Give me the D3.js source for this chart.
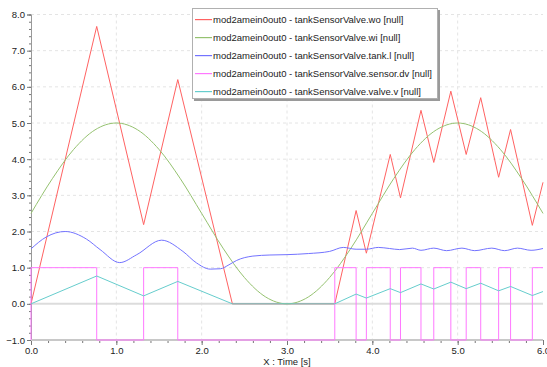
<!DOCTYPE html>
<html lang="en">
  <head>
    <meta charset="UTF-8" />
    <title>tankSensorValve</title>
    <script src="https://cdn.jsdelivr.net/npm/d3@7"></script>
  </head>
  <body>
    <svg></svg>
    <style>
      body { margin: 0; background: #fff; }
      svg { width: 547px; height: 367px; display: block; }
      text { font-family: "Liberation Sans", Arial, sans-serif; font-size: 9.5px; fill: #222; }
    </style>
    <script>
      // series
      const woTime = [0, 0.77, 1.32, 1.72, 2.36, 3.56, 3.81, 3.93, 4.21, 4.33, 4.57, 4.72, 4.92, 5.10, 5.27, 5.48, 5.62, 5.875, 6.0];
      const wo = [0, 7.67, 2.19, 6.2, 0, 0, 2.58, 1.40, 4.13, 2.93, 5.35, 3.91, 5.88, 4.13, 5.70, 3.50, 4.82, 2.17, 3.36];
      const valveV = [0, 0.77, 0.22, 0.62, 0, 0, 0.27, 0.16, 0.42, 0.31, 0.55, 0.41, 0.60, 0.42, 0.57, 0.36, 0.48, 0.23, 0.34];

      const wiTime = [0, 0.25, 0.5, 0.75, 1, 1.25, 1.5, 1.75, 2, 2.25, 2.5, 2.75, 3, 3.25, 3.5, 3.75, 4, 4.25, 4.5, 4.75, 5, 5.25, 5.5, 5.75, 6];
      const wi = [2.5, 3.46, 4.27, 4.81, 5.0, 4.81, 4.27, 3.46, 2.5, 1.54, 0.73, 0.19, 0, 0.19, 0.73, 1.54, 2.5, 3.46, 4.27, 4.81, 5.0, 4.81, 4.27, 3.46, 2.5];

      const levelTime = [0, 0.18, 0.4, 0.65, 0.81, 1.04, 1.24, 1.53, 1.78, 1.94, 2.1, 2.22, 2.32, 2.41, 2.6, 2.8, 3.0, 3.25, 3.5, 3.66, 3.81, 3.93, 4.07, 4.2, 4.32, 4.47, 4.57, 4.72, 4.87, 5.05, 5.2, 5.4, 5.55, 5.7, 5.86, 6.0];
      const level = [1.52, 1.85, 2.0, 1.79, 1.50, 1.14, 1.36, 1.76, 1.45, 1.13, 0.96, 0.97, 1.08, 1.2, 1.32, 1.35, 1.36, 1.39, 1.45, 1.56, 1.51, 1.51, 1.56, 1.53, 1.50, 1.54, 1.48, 1.54, 1.47, 1.54, 1.47, 1.54, 1.47, 1.54, 1.48, 1.53];

      const dvTime = [0, 0, 0.77, 1.32, 1.72, 3.56, 3.81, 3.93, 4.21, 4.33, 4.57, 4.72, 4.92, 5.10, 5.27, 5.48, 5.62, 5.875, 6.0];
      const dv = [-1, 1, -1, 1, -1, 1, -1, 1, -1, 1, -1, 1, -1, 1, -1, 1, -1, 1, 1];

      const xTicks = [0, 1, 2, 3, 4, 5, 6];
      const yTicks = [-1, 0, 1, 2, 3, 4, 5, 6, 7, 8];
      const legendNames = [
        "mod2amein0out0 - tankSensorValve.wo [null]",
        "mod2amein0out0 - tankSensorValve.wi [null]",
        "mod2amein0out0 - tankSensorValve.tank.l [null]",
        "mod2amein0out0 - tankSensorValve.sensor.dv [null]",
        "mod2amein0out0 - tankSensorValve.valve.v [null]"
      ];
      const colors = ["#ff6262", "#95c270", "#7373ff", "#ff78ff", "#66cdcd"];

      const svg = d3.select("svg");
      const x = d3.scaleLinear().domain([0, 6]).range([31, 543]);
      const y = d3.scaleLinear().domain([-1, 8]).range([340, 14.5]);

      // grid
      svg.append("g").selectAll("line").data(xTicks.slice(1, -1)).join("line")
        .attr("x1", d => x(d)).attr("x2", d => x(d))
        .attr("y1", y(8)).attr("y2", y(-1))
        .attr("stroke", "#e4e4e4").attr("stroke-dasharray", "3,3");
      svg.append("g").selectAll("line").data(yTicks.filter(d => d !== 0 && d !== -1)).join("line")
        .attr("x1", x(0)).attr("x2", x(6))
        .attr("y1", d => y(d)).attr("y2", d => y(d))
        .attr("stroke", "#e4e4e4").attr("stroke-dasharray", "3,3");
      svg.append("line")
        .attr("x1", x(0)).attr("x2", x(6)).attr("y1", y(0)).attr("y2", y(0))
        .attr("stroke", "#dcdcdc").attr("stroke-width", 2);

      // axes
      svg.append("g").attr("transform", `translate(${x(0)},0)`)
        .call(d3.axisLeft(y).tickValues(yTicks).tickFormat(d3.format(".1f")).tickSize(4).tickPadding(2));
      svg.append("g").attr("transform", `translate(${x(0)},0)`)
        .call(d3.axisLeft(y).tickValues(d3.range(-1, 8.01, 0.2)).tickFormat("").tickSize(2));
      svg.append("g").attr("transform", `translate(0,${y(-1)})`)
        .call(d3.axisBottom(x).tickValues(xTicks).tickFormat(d3.format(".1f")).tickSize(5).tickPadding(2));
      svg.append("g").attr("transform", `translate(0,${y(-1)})`)
        .call(d3.axisBottom(x).tickValues(d3.range(0, 6.01, 0.2)).tickFormat("").tickSize(3));
      svg.selectAll(".domain").attr("stroke", "#999");
      svg.selectAll(".tick line").attr("stroke", "#777");
      svg.selectAll(".tick text").style("font-size", "9.5px").attr("fill", "#222");
      svg.append("line")
        .attr("x1", x(0)).attr("x2", x(6)).attr("y1", y(-1)).attr("y2", y(-1))
        .attr("stroke", "#c8c8c8").attr("stroke-width", 2);

      svg.append("text").attr("x", 287).attr("y", 365).attr("text-anchor", "middle").text("X : Time [s]");

      // series
      const lin = d3.line().x(d => x(d[0])).y(d => y(d[1]));
      const smooth = d3.line().x(d => x(d[0])).y(d => y(d[1])).curve(d3.curveMonotoneX);
      const step = d3.line().x(d => x(d[0])).y(d => y(d[1])).curve(d3.curveStepAfter);

      const series = [
        { path: lin(d3.zip(woTime, wo)), c: colors[0] },
        { path: smooth(d3.zip(wiTime, wi)), c: colors[1] },
        { path: smooth(d3.zip(levelTime, level)), c: colors[2] },
        { path: step(d3.zip(dvTime, dv)), c: colors[3] },
        { path: lin(d3.zip(woTime, valveV)), c: colors[4] }
      ];
      svg.append("g").selectAll("path").data(series).join("path")
        .attr("d", d => d.path).attr("fill", "none")
        .attr("stroke", d => d.c).attr("stroke-width", 1);

      // legend
      const lg = svg.append("g").attr("transform", "translate(192,8)");
      lg.append("rect").attr("x", 2).attr("y", 2).attr("width", 246).attr("height", 91).attr("fill", "#9a9a9a");
      lg.append("rect").attr("x", 0.5).attr("y", 0.5).attr("width", 245).attr("height", 90)
        .attr("fill", "#fff").attr("stroke", "#b0b0b0");
      const rows = lg.selectAll("g").data(legendNames).join("g")
        .attr("transform", (d, i) => `translate(0,${11 + i * 18})`);
      rows.append("rect").attr("x", 3).attr("y", 0).attr("width", 17).attr("height", 1.2)
        .attr("fill", (d, i) => colors[legendNames.indexOf(d)]);
      rows.append("text").attr("x", 21).attr("y", 0.5).attr("dy", "0.35em").text(d => d);
    </script>
  </body>
</html>
